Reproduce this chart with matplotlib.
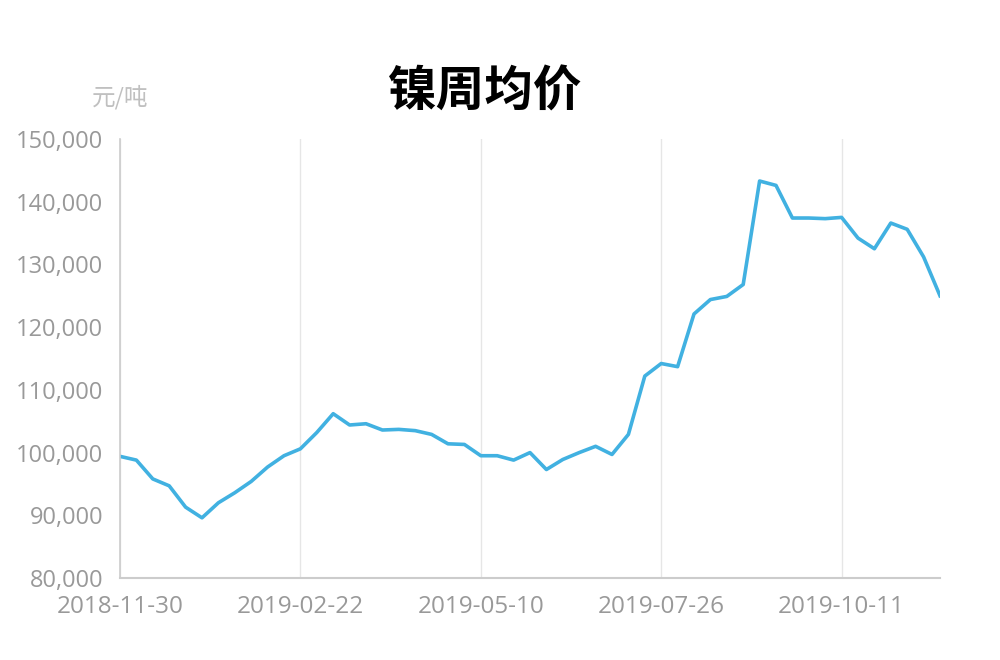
import matplotlib
matplotlib.use("Agg")
import matplotlib.pyplot as plt
from matplotlib.ticker import FuncFormatter, FixedLocator

plt.rcParams['font.family'] = ['Noto Sans CJK SC', 'DejaVu Sans']

title = "镍周均价"
unit = "元/吨"
tick_labels = ["2018-11-30", "2019-02-22", "2019-05-10", "2019-07-26", "2019-10-11"]
tick_idx = [0, 11, 22, 33, 44]
prices = [99400, 98800, 95800, 94700, 91300, 89600, 92000, 93600, 95400, 97700,
          99500, 100600, 103200, 106200, 104400, 104600, 103600, 103700, 103500, 102900,
          101400, 101300, 99500, 99500, 98800, 100000, 97300, 98900, 100000, 101000,
          99700, 102900, 112200, 114200, 113700, 122100, 124400, 124900, 126800, 143300,
          142600, 137400, 137400, 137300, 137500, 134200, 132500, 136600, 135600, 131200,
          125000]

fig = plt.figure(figsize=(10, 6.6), dpi=100)
ax = fig.add_axes([0.12, 0.1242, 0.82, 0.6652])
x = list(range(len(prices)))
ax.plot(x, prices, color='#41b1e1', lw=2.6, solid_joinstyle='round')
ax.set_xlim(0, len(prices) - 1)
ax.set_ylim(80000, 150000)
ax.set_yticks(range(80000, 150001, 10000))
ax.yaxis.set_major_formatter(FuncFormatter(lambda v, p: f"{int(v):,}"))
ax.xaxis.set_major_locator(FixedLocator(tick_idx))
ax.set_xticklabels(tick_labels)
ax.grid(axis='x', color='#e6e6e6', lw=1)
ax.set_axisbelow(True)
for s in ['top', 'right']:
    ax.spines[s].set_visible(False)
ax.spines['left'].set_color('#cccccc')
ax.spines['bottom'].set_color('#cccccc')
ax.spines['left'].set_linewidth(1.2)
ax.spines['bottom'].set_linewidth(1.5)
ax.tick_params(axis='y', length=0, labelsize=17, labelcolor='#999999', pad=12)
ax.tick_params(axis='x', length=0, labelsize=17.5, labelcolor='#999999', pad=12)
for lab in ax.get_xticklabels() + ax.get_yticklabels():
    lab.set_family(['Open Sans', 'DejaVu Sans'])

fig.text(0.485, 1 - 92 / 660, title, ha='center', va='center', fontsize=35, fontweight='bold', color='black')
fig.text(0.12, 1 - 97 / 660, unit, ha='center', va='center', fontsize=17, color='#c0c0c0')

fig.savefig('out.png', dpi=100)
